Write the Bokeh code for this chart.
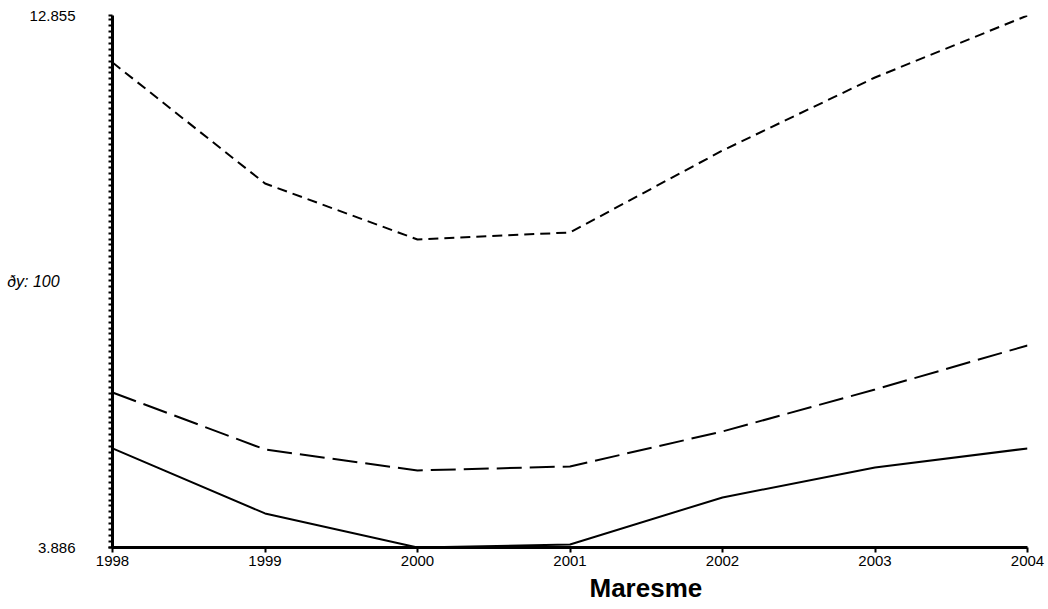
import numpy as np
from bokeh.plotting import figure
from bokeh.models import FixedTicker, NumeralTickFormatter, Range1d, Title
from bokeh.embed import file_html
from bokeh.resources import INLINE

years = [1998, 1999, 2000, 2001, 2002, 2003, 2004]
upper = [12.063, 10.023, 9.079, 9.197, 10.579, 11.810, 12.855]
middle = [6.500, 5.539, 5.185, 5.252, 5.842, 6.550, 7.292]
lower = [5.556, 4.460, 3.886, 3.937, 4.730, 5.235, 5.556]
y_min, y_max = 3.886, 12.855
y_step = 0.1
title_text = "Maresme"
delta_text = "ðy: 100"

FONT = "Liberation Sans"

p = figure(width=1048, height=609, output_backend="svg", toolbar_location=None,
           x_range=Range1d(1998, 2004), y_range=Range1d(y_min, y_max),
           min_border_left=112, min_border_right=21, min_border_top=15, min_border_bottom=62)
p.outline_line_color = None
p.grid.visible = False
p.background_fill_color = "white"

p.line(years, upper, line_color="black", line_width=2, line_dash="10 6")
p.line(years, middle, line_color="black", line_width=2, line_dash="25 8")
p.line(years, lower, line_color="black", line_width=2)

# x axis
p.xaxis.ticker = FixedTicker(ticks=years)
p.xaxis.axis_line_width = 3
p.xaxis.major_tick_out = 5
p.xaxis.major_tick_in = 0
p.xaxis.major_tick_line_width = 2
p.xaxis.minor_tick_line_color = None
p.xaxis.major_label_text_font = FONT
p.xaxis.major_label_text_font_size = "15px"
p.xaxis.major_label_text_color = "black"
p.xaxis.major_label_standoff = 3

p.add_layout(Title(text=title_text, align="left", offset=477, standoff=5,
                   text_font=FONT, text_font_size="26px", text_font_style="bold",
                   text_color="black"), "below")

# y axis
minor = list(np.arange(y_min, y_max + 1e-9, y_step))
p.yaxis.ticker = FixedTicker(ticks=[y_min, y_max], minor_ticks=minor)
p.yaxis.formatter = NumeralTickFormatter(format="0.000")
p.yaxis.axis_line_width = 3
p.yaxis.major_tick_out = 4
p.yaxis.major_tick_in = 0
p.yaxis.major_tick_line_width = 2
p.yaxis.minor_tick_out = 4
p.yaxis.minor_tick_in = 0
p.yaxis.minor_tick_line_width = 2
p.yaxis.major_label_text_font = FONT
p.yaxis.major_label_text_font_size = "15px"
p.yaxis.major_label_text_color = "black"
p.yaxis.major_label_standoff = 33
p.yaxis.axis_label = delta_text
p.yaxis.axis_label_orientation = "horizontal"
p.yaxis.axis_label_text_font = FONT
p.yaxis.axis_label_text_font_size = "16px"
p.yaxis.axis_label_text_font_style = "italic"
p.yaxis.axis_label_text_color = "black"
p.yaxis.axis_label_standoff = -33

open("out.html", "w").write(file_html(p, INLINE))
